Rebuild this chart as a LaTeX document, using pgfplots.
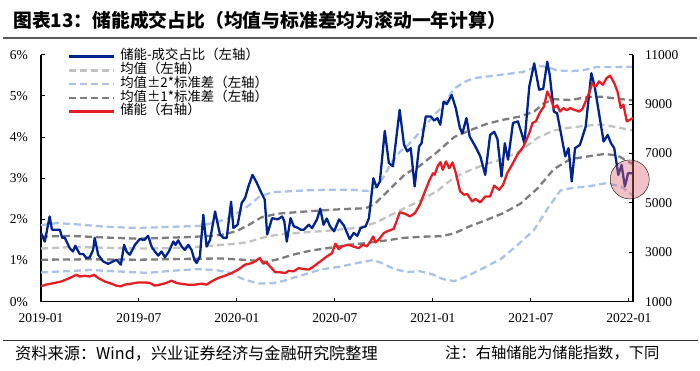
\documentclass[border=0pt]{standalone}
\usepackage{pgfplots}
\pgfplotsset{compat=1.18}
\usepackage{fontspec}
\setmainfont{Liberation Serif}
\newfontfamily\cjk{Noto Sans CJK SC}
\definecolor{sblue}{RGB}{0,35,140}
\definecolor{sred}{RGB}{230,30,35}
\definecolor{lgray}{RGB}{195,195,195}
\definecolor{dgray}{RGB}{125,125,125}
\definecolor{lblue}{RGB}{170,195,235}
\definecolor{pinkc}{RGB}{220,100,110}
\pgfplotsset{
  bluel/.style={color=sblue, line width=2.3pt, line join=round},
  redl/.style={color=sred, line width=2.3pt, line join=round},
  meanl/.style={color=lgray, line width=2.3pt, dash pattern=on 7pt off 4pt},
  onel/.style={color=dgray, line width=2.3pt, dash pattern=on 7pt off 4pt},
  twol/.style={color=lblue, line width=2.3pt, dash pattern=on 7pt off 4pt},
}
\begin{document}
\begin{tikzpicture}
\useasboundingbox (0pt,0pt) rectangle (700pt,370pt);
\node[anchor=west, inner sep=0pt] at (13pt,350pt) {\cjk\bfseries\fontsize{18.8}{18.8}\selectfont 图表13：储能成交占比（均值与标准差均为滚动一年计算）};
\draw[line width=2.2pt, color=black!65] (3pt,332pt) -- (697pt,332pt);
\draw[line width=1.2pt, color=black!80] (3pt,29.3pt) -- (698pt,29.3pt);
\node[anchor=west, inner sep=0pt] at (15pt,16.7pt) {\cjk\fontsize{16.2}{16.2}\selectfont 资料来源：Wind，兴业证券经济与金融研究院整理};
\node[anchor=west, inner sep=0pt] at (445pt,16.7pt) {\cjk\fontsize{15.3}{15.3}\selectfont 注：右轴储能为储能指数，下同};

\begin{axis}[
  at={(41pt,68.3pt)}, anchor=south west,
  scale only axis, width=592pt, height=247pt,
  xmin=0, xmax=36.25, ymin=0, ymax=6,
  axis x line*=bottom, axis y line*=left,
  axis line style={line width=1.1pt, black},
  tick align=inside, major tick length=4pt,
  tick style={line width=1pt, black},
  xtick={0,6,12,18,24,30,36},
  xticklabels={2019-01,2019-07,2020-01,2020-07,2021-01,2021-07,2022-01},
  ytick={0,1,2,3,4,5,6},
  yticklabel={\pgfmathprintnumber{\tick}\%},
  /pgf/number format/assume math mode=true,
  tick label style={font=\fontsize{13.5}{13.5}\selectfont},
  xticklabel style={inner sep=0pt, yshift=-12pt},
  yticklabel style={inner sep=0pt, xshift=-13pt},
  clip=false,
  legend style={at={(0.0456,1.020)}, anchor=north west, draw=none, fill=none,
    inner sep=0pt, outer sep=0pt, row sep=0pt,
    font=\cjk\fontsize{13.4}{13.4}\selectfont,
    nodes={inner sep=0pt, text height=10pt, text depth=3.75pt},
    /tikz/every odd column/.style={column sep=5pt}},
  legend cell align=left,
  legend image code/.code={\draw[#1] (0pt,0pt) -- (45pt,0pt);},
]
\addlegendimage{bluel}\addlegendentry{储能-成交占比（左轴）}
\addlegendimage{meanl}\addlegendentry{均值（左轴）}
\addlegendimage{twol}\addlegendentry{均值±2*标准差（左轴）}
\addlegendimage{onel}\addlegendentry{均值±1*标准差（左轴）}
\addlegendimage{redl}\addlegendentry{储能（右轴）}

% mean + 2 sd
\addplot[twol, forget plot] coordinates {
(0,1.86)(1,1.91)(2.5,1.87)(4,1.82)(6,1.79)(8,1.82)(9.7,1.84)(10.6,1.92)(11.4,2.01)(12,2.15)(12.6,2.30)(13.4,2.56)(14.2,2.66)(16,2.70)(17.5,2.72)(19,2.72)(20,2.69)(20.6,2.80)(21.0,3.05)(21.5,3.40)(22,3.65)(22.5,3.82)(23,4.03)(23.6,4.30)(24.1,4.55)(24.5,4.70)(25.3,5.18)(26,5.35)(26.5,5.43)(27.3,5.47)(28.5,5.53)(29.5,5.58)(30,5.66)(30.5,5.73)(31,5.70)(31.6,5.62)(32.5,5.60)(33.3,5.63)(34,5.70)(35,5.70)(36.25,5.71)
};
% mean - 2 sd
\addplot[twol, forget plot] coordinates {
(0,0.71)(1.5,0.74)(3,0.77)(5,0.73)(6.5,0.70)(8,0.75)(9.5,0.79)(10.7,0.77)(11.6,0.70)(12.3,0.56)(13.3,0.44)(14.2,0.45)(14.8,0.50)(15.7,0.61)(17.1,0.78)(18.3,0.85)(19.5,0.95)(20.3,1.01)(20.8,0.95)(21.6,0.80)(22.4,0.72)(23.2,0.74)(24.0,0.66)(24.6,0.55)(25.3,0.50)(26.1,0.62)(27.2,0.84)(28.2,1.05)(29.3,1.42)(30.2,1.75)(31.0,2.25)(31.8,2.70)(32.6,2.77)(33.5,2.80)(34.6,2.88)(35.5,2.80)(36.25,2.58)
};
% mean
\addplot[meanl, forget plot] coordinates {
(0,1.29)(2,1.33)(4,1.31)(6,1.29)(8,1.30)(9.5,1.33)(11,1.38)(12,1.41)(12.7,1.45)(13.5,1.55)(14.5,1.63)(16,1.68)(17.7,1.73)(19.5,1.80)(20.5,1.92)(21.4,2.10)(22.3,2.28)(23.2,2.45)(24.3,2.70)(25.3,3.02)(26.3,3.20)(27.3,3.35)(28.3,3.47)(29.35,3.66)(30.4,3.98)(31.4,4.16)(32.4,4.23)(33.5,4.28)(34.3,4.30)(35.1,4.25)(36.25,4.16)
};
% mean + 1 sd
\addplot[onel, forget plot] coordinates {
(0,1.58)(1.8,1.60)(3.9,1.56)(6,1.53)(9,1.57)(10.5,1.60)(11.3,1.64)(12,1.72)(12.7,1.86)(13.5,2.05)(14.5,2.14)(16.5,2.20)(18.5,2.25)(19.9,2.27)(20.5,2.40)(21.4,2.75)(22.3,3.10)(23.2,3.30)(24.3,3.65)(25.3,4.00)(26.3,4.17)(27.3,4.32)(28.3,4.42)(29.35,4.50)(30.2,4.62)(30.8,4.82)(31.4,4.92)(32.4,4.90)(33.5,4.97)(34.3,4.98)(35.1,4.94)(36.25,4.89)
};
% mean - 1 sd
\addplot[onel, forget plot] coordinates {
(0,1.02)(3,1.03)(6,1.02)(9,1.04)(11,1.05)(12,1.03)(13,1.00)(13.8,0.97)(14.5,1.03)(15.5,1.15)(16.5,1.24)(17.7,1.31)(18.8,1.38)(19.8,1.42)(20.8,1.47)(22.2,1.55)(23.4,1.58)(24.5,1.59)(25.3,1.66)(26.3,1.84)(27.3,1.99)(28.3,2.15)(29.35,2.38)(30.4,2.75)(31.4,3.22)(32.4,3.46)(33.5,3.53)(34.5,3.59)(35.3,3.55)(36.25,3.34)
};
% share
\addplot[bluel, forget plot] coordinates {
(0,1.67)(0.23,1.46)(0.53,2.07)(0.67,1.75)(1.15,1.75)(1.3,1.55)(1.45,1.56)(1.76,1.30)(1.96,1.22)(2.1,1.36)(2.23,1.26)(2.37,1.16)(2.58,1.16)(2.78,1.06)(2.99,1.08)(3.19,1.26)(3.29,1.55)(3.5,1.14)(3.8,0.98)(4.11,0.92)(4.42,0.98)(4.62,1.02)(4.89,0.90)(5.09,1.38)(5.24,1.22)(5.44,1.14)(5.75,1.38)(6.05,1.52)(6.32,1.50)(6.56,1.60)(6.77,1.34)(6.97,1.22)(7.18,1.12)(7.38,1.22)(7.59,1.08)(7.83,1.22)(8.1,1.46)(8.24,1.38)(8.4,1.49)(8.61,1.34)(8.81,1.26)(9.02,1.38)(9.22,1.26)(9.39,1.02)(9.53,0.94)(9.73,1.10)(9.94,2.11)(10.14,1.34)(10.35,1.50)(10.66,2.19)(10.96,1.63)(11.17,1.55)(11.37,1.55)(11.64,2.43)(11.78,1.79)(12.04,1.87)(12.29,2.40)(12.5,2.52)(12.7,2.80)(12.95,3.08)(13.2,2.90)(13.4,2.72)(13.7,2.48)(13.85,1.63)(14.15,2.03)(14.5,2.00)(14.77,2.07)(14.9,1.95)(15.05,1.46)(15.28,2.03)(15.48,1.83)(15.7,1.80)(15.9,1.75)(16.1,1.75)(16.4,1.87)(16.6,1.79)(16.9,2.00)(17.1,2.26)(17.3,1.87)(17.5,2.02)(17.7,1.83)(17.95,1.71)(18.25,2.00)(18.55,1.85)(18.9,1.52)(19.15,1.67)(19.37,1.60)(19.57,1.79)(19.88,1.83)(20.08,2.03)(20.35,3.00)(20.55,2.78)(20.75,2.92)(21.05,4.15)(21.3,3.37)(21.55,3.29)(21.96,4.66)(22.23,3.81)(22.43,3.65)(22.64,3.73)(22.88,2.80)(23.15,3.77)(23.3,3.85)(23.56,4.50)(23.87,4.50)(24.07,4.40)(24.27,4.46)(24.45,4.30)(24.65,4.86)(24.85,4.80)(25.15,5.02)(25.4,4.70)(25.65,4.22)(25.8,4.09)(26.05,4.46)(26.25,4.01)(26.6,3.77)(26.9,3.53)(27.2,3.08)(27.5,4.05)(27.75,4.13)(27.95,3.95)(28.2,3.04)(28.4,3.85)(28.6,3.45)(28.9,4.34)(29.2,4.38)(29.4,4.13)(29.6,3.85)(29.9,5.23)(30.2,5.79)(30.5,5.15)(30.75,5.17)(31.0,5.83)(31.15,5.51)(31.4,4.62)(31.6,4.58)(31.8,4.17)(32.1,3.53)(32.3,3.73)(32.5,2.92)(32.7,3.73)(33.0,3.81)(33.35,4.25)(33.7,5.55)(33.9,5.23)(34.2,4.50)(34.45,3.89)(34.7,4.05)(34.9,3.85)(35.1,3.73)(35.35,3.08)(35.55,3.32)(35.75,2.80)(35.95,3.12)(36.2,3.12)
};
\end{axis}

\begin{axis}[
  at={(41pt,68.3pt)}, anchor=south west,
  scale only axis, width=592pt, height=247pt,
  xmin=0, xmax=36.25, ymin=1000, ymax=11000,
  axis x line=none, axis y line*=right,
  axis line style={line width=1.1pt, black},
  tick align=inside, major tick length=4pt,
  tick style={line width=1pt, black},
  ytick={1000,3000,5000,7000,9000,11000},
  scaled y ticks=false,
  /pgf/number format/assume math mode=true,
  /pgf/number format/set thousands separator={},
  tick label style={font=\fontsize{13.5}{13.5}\selectfont},
  yticklabel style={inner sep=0pt, xshift=12pt},
  clip=false,
]
\addplot[redl] coordinates {
(0,1620)(0.3,1690)(0.84,1760)(1.25,1820)(1.76,1960)(2.17,2090)(2.37,2020)(2.68,2050)(2.99,2020)(3.25,2090)(3.5,1960)(3.9,1820)(4.31,1730)(4.62,1650)(4.89,1620)(5.13,1690)(5.54,1730)(5.95,1780)(6.36,1780)(6.66,1760)(6.97,1650)(7.28,1690)(7.68,1760)(7.99,1850)(8.3,1760)(8.6,1720)(9.0,1690)(9.42,1690)(9.83,1730)(10.13,1690)(10.44,1820)(10.85,1960)(11.26,2050)(11.67,2160)(12.08,2300)(12.49,2500)(12.9,2560)(13.1,2630)(13.4,2770)(13.6,2540)(13.8,2590)(14.35,2190)(14.65,2190)(14.96,2160)(15.16,2250)(15.47,2230)(15.78,2360)(16.08,2320)(16.39,2300)(16.7,2430)(17.1,2630)(17.5,2830)(17.82,2970)(18.03,3350)(18.23,3130)(18.44,3240)(18.84,3310)(19.1,3240)(19.45,3170)(19.72,3310)(19.95,3240)(20.17,3440)(20.34,3640)(20.48,3400)(20.68,3510)(20.99,3780)(21.2,3850)(21.6,3950)(21.97,4620)(22.3,4560)(22.6,4450)(22.9,4590)(23.2,4930)(23.5,5450)(23.8,5940)(24.0,6200)(24.1,6140)(24.3,6500)(24.46,6650)(24.6,6340)(24.8,6680)(25.0,6400)(25.2,6640)(25.4,6210)(25.66,5470)(25.9,5330)(26.1,5360)(26.4,5060)(26.6,5160)(26.9,5020)(27.2,5260)(27.5,5260)(27.75,5700)(28.05,5530)(28.3,5740)(28.55,6210)(28.85,6550)(29.17,6950)(29.55,7290)(29.9,7830)(30.1,8240)(30.3,8300)(30.55,8660)(30.8,8910)(31.0,9510)(31.2,9250)(31.4,8840)(31.6,8950)(31.78,8700)(32.0,8840)(32.2,8750)(32.4,8840)(32.64,8770)(32.95,8700)(33.15,8800)(33.35,9110)(33.56,9450)(33.76,9850)(33.95,9700)(34.17,9920)(34.4,9780)(34.64,10060)(34.85,10150)(35.1,9850)(35.3,9510)(35.5,8840)(35.66,8980)(35.87,8300)(36.07,8370)(36.25,8440)
};
\addplot[only marks, mark=*, mark size=19.5pt, mark options={fill=pinkc, draw=none, fill opacity=0.4}] coordinates {(36.05,5950)};
\end{axis}
\end{tikzpicture}
\end{document}
